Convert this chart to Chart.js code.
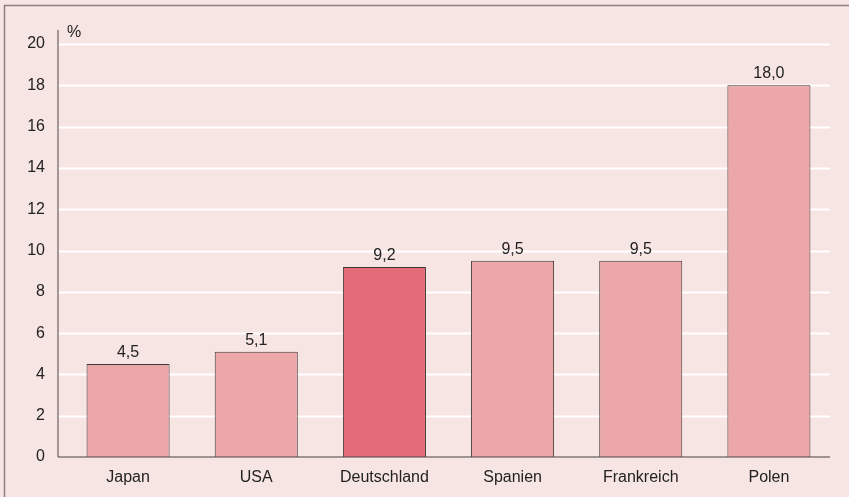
<!DOCTYPE html>
<html>
<head>
<meta charset="utf-8">
<script src="https://cdn.jsdelivr.net/npm/chart.js@4.4.0/dist/chart.umd.min.js"></script>
<style>
html,body{margin:0;padding:0;background:#f7e5e3;}
#wrap{width:849px;height:497px;position:relative;}
</style>
</head>
<body>
<div id="wrap"><canvas id="c" width="849" height="497"></canvas></div>
<script>
const categories = ["Japan", "USA", "Deutschland", "Spanien", "Frankreich", "Polen"];
const values = [4.5, 5.1, 9.2, 9.5, 9.5, 18.0];
const valueLabels = ["4,5", "5,1", "9,2", "9,5", "9,5", "18,0"];
const yTicks = [0, 2, 4, 6, 8, 10, 12, 14, 16, 18, 20];
const unitLabel = "%";

const lightColor = "#eca8a8";
const darkColor = "#e46c78";
const barColors = categories.map(c => c === "Deutschland" ? darkColor : lightColor);
const FONT = "'Liberation Sans', Arial, sans-serif";
const AXIS_X = 58, AXIS_END = 830;

const deco = {
  id: 'deco',
  beforeDraw(chart) {
    const ctx = chart.ctx;
    ctx.save();
    ctx.fillStyle = '#f7e5e3';
    ctx.fillRect(0, 0, chart.width, chart.height);
    ctx.strokeStyle = '#8a8080';
    ctx.lineWidth = 1.5;
    ctx.beginPath();
    ctx.moveTo(4.5, chart.height);
    ctx.lineTo(4.5, 5.5);
    ctx.lineTo(chart.width, 5.5);
    ctx.stroke();
    ctx.restore();
  },
  beforeDatasetsDraw(chart) {
    const ctx = chart.ctx;
    const ys = chart.scales.y;
    ctx.save();
    ctx.strokeStyle = '#ffffff';
    ctx.lineWidth = 1.8;
    yTicks.forEach(v => {
      if (v === 0) return;
      const y = Math.round(ys.getPixelForValue(v)) + 0.5;
      ctx.beginPath();
      ctx.moveTo(AXIS_X, y);
      ctx.lineTo(AXIS_END, y);
      ctx.stroke();
    });
    ctx.restore();
  },
  afterDatasetsDraw(chart) {
    const ctx = chart.ctx;
    const area = chart.chartArea;
    ctx.save();
    ctx.strokeStyle = '#6b6262';
    ctx.lineWidth = 1.2;
    ctx.beginPath();
    ctx.moveTo(AXIS_X, 30);
    ctx.lineTo(AXIS_X, area.bottom);
    ctx.stroke();
    ctx.strokeStyle = '#4a4444';
    ctx.beginPath();
    ctx.moveTo(AXIS_X, area.bottom);
    ctx.lineTo(AXIS_END, area.bottom);
    ctx.stroke();
    ctx.fillStyle = '#222';
    ctx.font = '16px ' + FONT;
    ctx.textAlign = 'left';
    ctx.textBaseline = 'alphabetic';
    ctx.fillText(unitLabel, AXIS_X + 9, 37);
    const meta = chart.getDatasetMeta(0);
    ctx.textAlign = 'center';
    meta.data.forEach((bar, i) => {
      ctx.fillText(valueLabels[i], bar.x, bar.y - 7);
    });
    ctx.restore();
  }
};

new Chart(document.getElementById('c'), {
  type: 'bar',
  data: {
    labels: categories,
    datasets: [{
      data: values,
      backgroundColor: barColors,
      borderColor: '#3f3838',
      borderWidth: 1,
      categoryPercentage: 1,
      barPercentage: 0.648
    }]
  },
  options: {
    responsive: false,
    animation: false,
    devicePixelRatio: 1,
    layout: { padding: { left: 0, right: 16, top: 44, bottom: 0 } },
    plugins: { legend: { display: false }, tooltip: { enabled: false } },
    scales: {
      x: {
        grid: { display: false, drawTicks: false },
        border: { display: false },
        ticks: { color: '#222', font: { family: FONT, size: 16 }, padding: 11 },
        afterFit(s) { s.height = 40; }
      },
      y: {
        min: 0, max: 20,
        afterBuildTicks(s) { s.ticks = yTicks.map(v => ({ value: v })); },
        grid: { display: false, drawTicks: false },
        border: { display: false },
        ticks: { color: '#222', font: { family: FONT, size: 16 }, padding: 19 },
        afterFit(s) { s.width = 64; }
      }
    }
  },
  plugins: [deco]
});
</script>
</body>
</html>
